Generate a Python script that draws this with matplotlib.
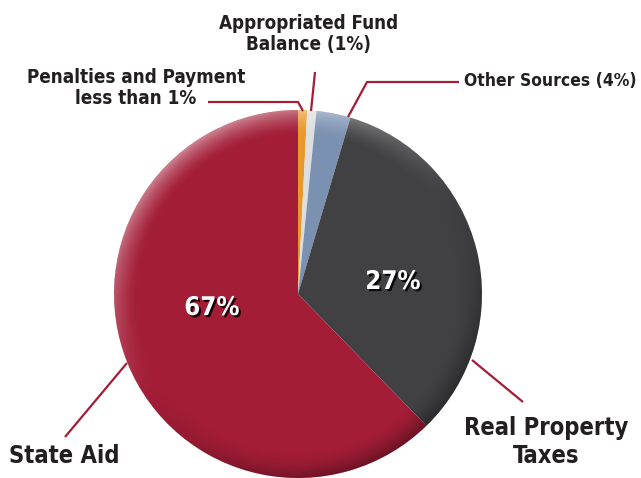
import numpy as np
import matplotlib.pyplot as plt
import matplotlib.patheffects as pe
from matplotlib.patches import Circle

W, H = 641, 478

# slices clockwise from 12 o'clock (shares as drawn in the picture)
sources = ["Penalties and Payment", "Appropriated Fund Balance", "Other Sources",
           "Real Property Taxes", "State Aid"]
shares = [0.8, 0.8, 3.0, 33.1, 62.3]
colors = ["#E8992B", "#DCDEDF", "#7B91B1", "#414042", "#A31D37"]

# printed labels
pct_labels = ["67%", "27%"]
outside_labels = ["Penalties and Payment\nless than 1%", "Appropriated Fund\nBalance (1%)",
                  "Other Sources (4%)", "Real Property\nTaxes", "State Aid"]

LINE = "#A31D37"
TXT = "#231F20"
FONT = dict(family="DejaVu Sans", fontstretch="condensed", fontweight="bold")

def py(y):
    # picture y (down) -> axes y (up)
    return H - y

cx, cy, r = 298, py(294), 184

fig = plt.figure(figsize=(W / 100, H / 100), dpi=100)
ax = fig.add_axes([0, 0, 1, 1])

wedges, _ = ax.pie(shares, colors=colors, startangle=90, counterclock=False,
                   center=(cx, cy), radius=r, wedgeprops=dict(linewidth=0))

# soft rim shading to mimic the bevel of the original
n = 400
g = np.linspace(-1, 1, n)
X, Y = np.meshgrid(g, g)
d = np.sqrt(X ** 2 + Y ** 2) + 1e-9
rim = np.clip((d - 0.86) / 0.14, 0, 1) ** 1.6
dot = (X * -0.55 + Y * 0.83) / d
shade = np.zeros((n, n, 4))
light = dot > 0
shade[light, :3] = 1.0
shade[..., 3] = np.where(light, rim * dot * 0.45, rim * -dot * 0.35)
img = ax.imshow(shade, origin="lower", extent=(cx - r, cx + r, cy - r, cy + r), zorder=3)
img.set_clip_path(Circle((cx, cy), r, transform=ax.transData))

# leader lines
leaders = [
    [(208, 102), (298, 102), (303, 111)],
    [(315, 72), (311, 111)],
    [(459, 82), (367, 82), (348, 117)],
    [(472, 360), (523, 402)],
    [(127, 363), (65, 437)],
]
for pts in leaders:
    xs = [p[0] for p in pts]
    ys = [py(p[1]) for p in pts]
    ax.plot(xs, ys, color=LINE, lw=1.6, zorder=4, solid_capstyle="butt")

# outside labels
small = 13.5
big = 17
ax.text(136, py(88), outside_labels[0], ha="center", va="center", fontsize=small,
        color=TXT, linespacing=1.1, **FONT)
ax.text(309, py(34), outside_labels[1], ha="center", va="center", fontsize=small,
        color=TXT, linespacing=1.1, **FONT)
ax.text(464, py(81), outside_labels[2], ha="left", va="center", fontsize=12.5,
        color=TXT, **FONT)
ax.text(546, py(442), outside_labels[3], ha="center", va="center", fontsize=big,
        color=TXT, linespacing=1.2, **FONT)
ax.text(9, py(456), outside_labels[4], ha="left", va="center", fontsize=big,
        color=TXT, **FONT)

# percentages on the slices
shadow = [pe.withSimplePatchShadow(offset=(1.5, -1.5), shadow_rgbFace="black", alpha=0.85)]
for lab, (x, y) in zip(pct_labels, [(212, 308), (393, 282)]):
    ax.text(x, py(y), lab, ha="center", va="center", fontsize=18.5,
            color="white", zorder=5, path_effects=shadow, **FONT)

ax.set_xlim(0, W)
ax.set_ylim(0, H)
ax.set_aspect("equal")
ax.axis("off")

fig.savefig("out.png", dpi=100)
